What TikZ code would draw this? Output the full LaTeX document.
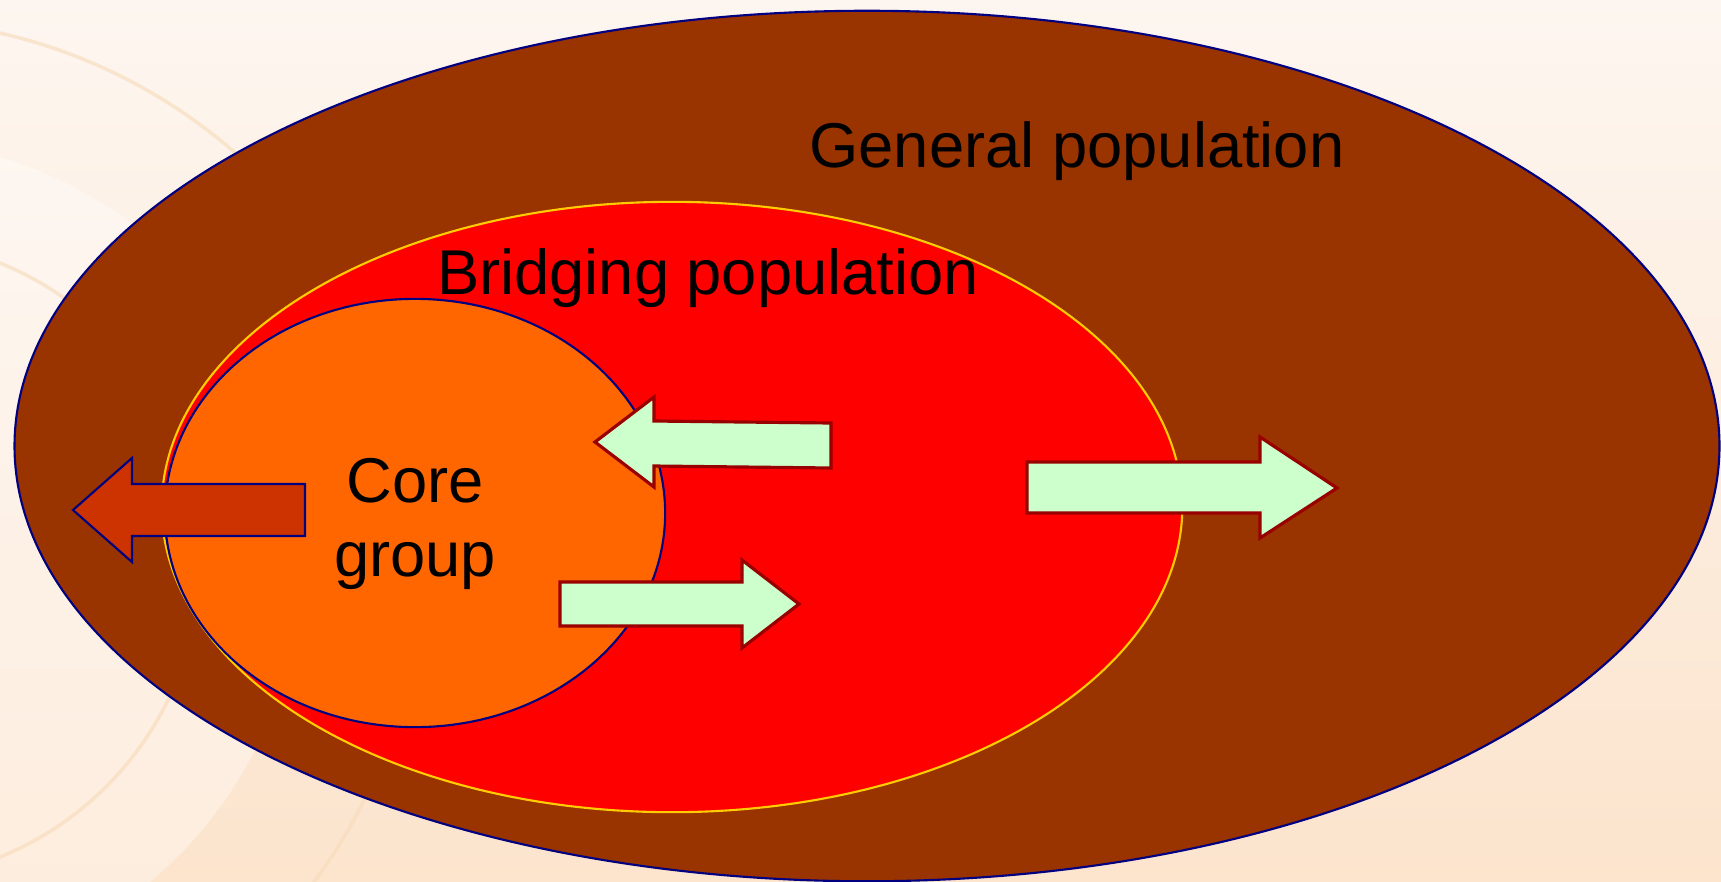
\documentclass[tikz,border=0pt]{standalone}
\usepackage{fontspec}
\setmainfont{Liberation Sans}
\usetikzlibrary{shapes.geometric}
\definecolor{bgtop}{HTML}{FDF6F0}
\definecolor{bgbottom}{HTML}{FCE4CD}
\definecolor{bgarc}{HTML}{F7DAB8}
\definecolor{generalfill}{HTML}{993300}
\definecolor{bridgefill}{HTML}{FF0000}
\definecolor{corefill}{HTML}{FF6600}
\definecolor{edgenavy}{HTML}{000080}
\definecolor{edgegold}{HTML}{FFCC00}
\definecolor{arrowgreen}{HTML}{CCFFCC}
\definecolor{arrowred}{HTML}{990000}
\definecolor{outarrow}{HTML}{CC3300}

\begin{document}
\begin{tikzpicture}[x=0.01cm,y=-0.01cm,
   pop/.style={ellipse, draw, inner sep=0pt, line width=0.6pt},
   poptext/.style={font=\fontsize{18}{20.8}\selectfont, text=black, inner sep=0pt, anchor=base, align=center},
   greenarrow/.style={fill=arrowgreen, draw=arrowred, line width=0.9pt},
   corearrow/.style={fill=outarrow, draw=edgenavy, line width=0.6pt}]
   \useasboundingbox (0,0) rectangle (1721,881);
   \clip (0,0) rectangle (1721,881);

   % backdrop
   \shade[top color=bgtop, bottom color=bgbottom] (0,0) rectangle (1721,881);
   \fill[white, opacity=0.35] (-120,560) circle [radius=4.2cm];
   \draw[bgarc, line width=1pt, opacity=0.6] (-120,560) circle [radius=3.2cm];
   \draw[bgarc, line width=1pt, opacity=0.6] (-120,560) circle [radius=5.4cm];

   % the three populations
   \node[pop, fill=generalfill, draw=edgenavy, minimum width=17.04cm, minimum height=8.70cm] (general) at (867,446) {};
   \node[pop, fill=bridgefill, draw=edgegold, minimum width=10.20cm, minimum height=6.10cm] (bridging) at (672,507) {};
   \node[pop, fill=corefill, draw=edgenavy, minimum width=5.00cm, minimum height=4.28cm] (core) at (415,513) {};

   % flows
   \filldraw[corearrow] (305,484) -- (132,484) -- (132,458) -- (73,510) -- (132,562) -- (132,536) -- (305,536) -- cycle;
   \filldraw[greenarrow] (831,423) -- (654,421) -- (654,397) -- (595,442) -- (654,487) -- (654,466) -- (831,468) -- cycle;
   \filldraw[greenarrow] (560,582) -- (742,582) -- (742,560) -- (799,604) -- (742,648) -- (742,626) -- (560,626) -- cycle;
   \filldraw[greenarrow] (1027,462) -- (1260,462) -- (1260,437) -- (1337,488) -- (1260,538) -- (1260,513) -- (1027,513) -- cycle;

   \node[poptext] (generaltext) at (1077,167) {General population};
   \node[poptext] (bridgingtext) at (708,294) {Bridging population};
   \node[poptext] (coretext) at (415,576) {Core\\group};
\end{tikzpicture}
\end{document}
